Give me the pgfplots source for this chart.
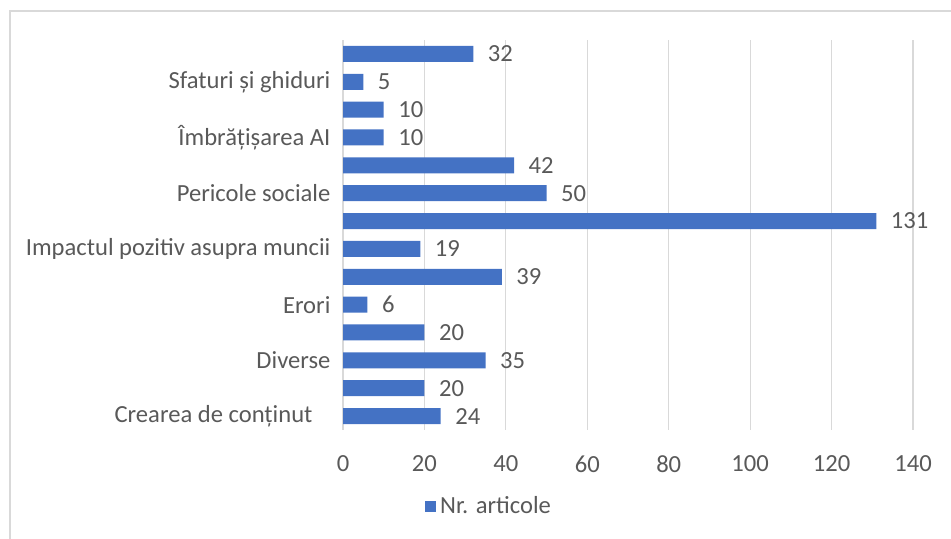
\documentclass[border=0pt]{standalone}
\usepackage{pgfplots}
\pgfplotsset{compat=1.18}
\usepackage{fontspec}
\setmainfont{Carlito}
\definecolor{barblue}{HTML}{4472C4}
\definecolor{txtgray}{HTML}{595959}
\definecolor{gridgray}{HTML}{D9D9D9}
\definecolor{framegray}{HTML}{D9D9D9}
\newcommand{\cfont}{\fontsize{12.3}{14}\selectfont}
\begin{document}
\cfont
\begin{tikzpicture}
\path[use as bounding box] (0,0) rectangle (475.5pt,269.5pt);
\draw[framegray, line width=0.6pt] (5pt,-2pt) -- (5pt,264pt) -- (478pt,264pt);
\begin{axis}[
  at={(171.5pt,54.5pt)}, anchor=south west,
  scale only axis, width=285pt, height=195pt,
  xbar, bar width=8pt,
  xmin=0, xmax=140, ymin=-0.5, ymax=13.5,
  xtick={0,20,...,140},
  ytick={0,2,4,6,8,10,12},
  yticklabels={Crearea de conținut\rule{9pt}{0pt},Diverse,Erori,Impactul pozitiv asupra muncii,Pericole sociale,Îmbrățișarea AI,Sfaturi și ghiduri},
  axis line style={draw=none},
  major tick length=0pt,
  xmajorgrids, grid style={gridgray, line width=0.6pt},
  tick label style={font=\cfont, text=txtgray},
  xticklabel style={yshift=-8.5pt},
  yticklabel style={xshift=-2pt},
  /pgf/number format/assume math mode=true,
  nodes near coords,
  nodes near coords style={font=\cfont, text=txtgray, xshift=3pt},
  legend style={at={(0.258,-0.197)}, anchor=center, draw=none, fill=none,
    font=\cfont, text=txtgray, inner sep=0pt,
    legend cell align=left},
  legend image code/.code={\fill[barblue] (0pt,-2.8pt) rectangle (5.5pt,2.8pt);},
]
\addplot[fill=barblue, draw=none] coordinates {
(24,0) (20,1) (35,2) (20,3) (6,4) (39,5) (19,6) (131,7) (50,8) (42,9) (10,10) (10,11) (5,12) (32,13)
};
\addlegendentry{Nr. articole}
\end{axis}
\end{tikzpicture}
\end{document}
